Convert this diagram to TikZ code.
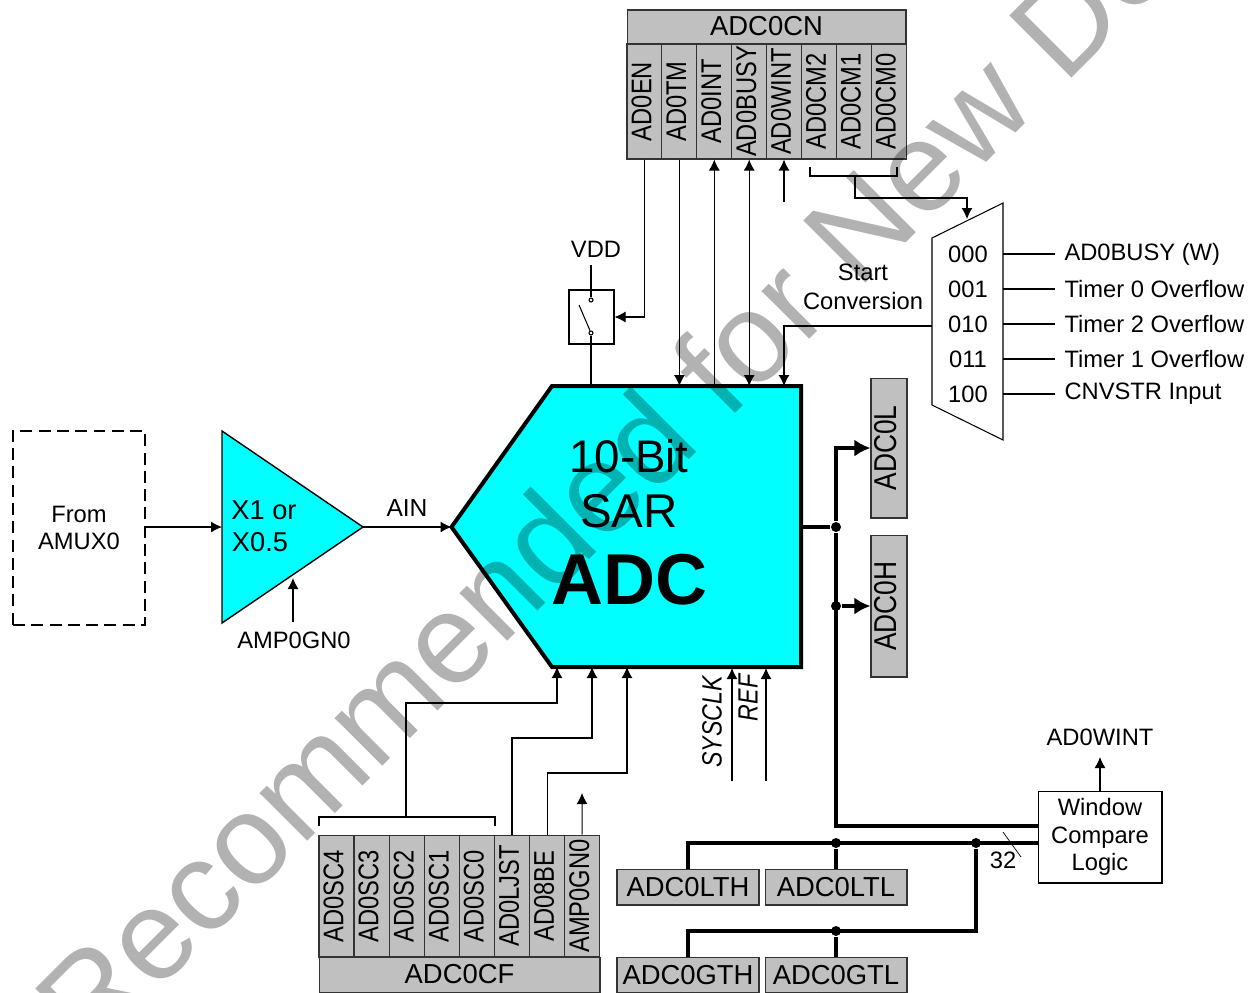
\documentclass[tikz,border=0pt]{standalone}
\usepackage{fontspec}
\setmainfont{Liberation Sans}
\usetikzlibrary{arrows.meta}
\definecolor{regfill}{RGB}{192,192,192}
\definecolor{adcfill}{RGB}{0,255,255}
\newcommand{\fsize}[1]{\fontsize{#1}{#1}\selectfont}
\newcommand{\vbit}[1]{\kern-.12cm\rotatebox{90}{\scalebox{1}[1.2]{#1}}}
\tikzset{
  sig/.style={-{Latex[length=2.2mm,width=2.2mm]}},
  bisig/.style={{Latex[length=2.2mm,width=2.2mm]}-{Latex[length=2.2mm,width=2.2mm]}},
  bus/.style={line width=.065cm},
  busarr/.style={line width=.065cm,-{Latex[length=3.2mm,width=3.4mm]}},
  dot/.style={circle,fill=black,inner sep=0pt,minimum size=.2cm},
  swpin/.style={draw,circle,inner sep=0pt,minimum size=.08cm},
  reg/.style={draw=black!80,fill=regfill,inner sep=0pt,font=\fsize{15.6}},
  bitcell/.style={reg,minimum width=.7cm,minimum height=2.3cm,font=\fsize{13.5}},
  lbl/.style={inner sep=0pt,font=\fsize{13.5},align=center},
}
\begin{document}
\begin{tikzpicture}[x=0.02cm,y=-0.02cm,line width=.6pt]
  \useasboundingbox (0,0) rectangle (1253,992);
  % converter block
  \node[minimum width=6.98cm,minimum height=5.62cm,inner sep=0pt] (adc) at (626.5,527) {};
  \fill[adcfill] (552,386) -- (801,386) -- (801,667) -- (552,667) -- (adc.west) -- cycle;
  \draw[line width=.08cm] (552,386) -- (801,386) -- (801,667) -- (552,667) -- (adc.west) -- cycle;
  \node[lbl,font=\fsize{26}] (tenbit) at (629,456) {10-Bit};
  \node[lbl,font=\fsize{27}] (sar) at (629,511) {SAR};
  \node[lbl,font=\fsize{41}\bfseries] (adctext) at (630,580) {ADC};
  % input side
  \node[draw,line width=1.5pt,dash pattern=on 6.8pt off 3.6pt,minimum width=2.64cm,minimum height=3.88cm,lbl] (amux) at (79,528) {From\\[.08cm]AMUX0};
  \coordinate (ampin) at (222,527);
  \coordinate (ampout) at (363,527);
  \coordinate (ampgain) at (293,578);
  \draw[fill=adcfill,line width=.8pt] (222,431) -- (ampout) -- (222,623) -- cycle;
  \node[lbl,font=\fsize{15.5}] (xone) at (264,510) {X1 or};
  \node[lbl,font=\fsize{15.5}] (xhalf) at (260,542) {X0.5};
  \draw[sig] (amux.east |- ampin) -- (ampin);
  \draw[sig] (ampout) -- (adc.west);
  \node[lbl,font=\fsize{14}] (ain) at (407,508) {AIN};
  \node[lbl] (gainlbl) at (294,640) {AMP0GN0};
  \draw[sig] (gainlbl.north -| ampgain) ++(0,-9) -- (ampgain);
  % control register
  \node[reg,minimum width=5.58cm,minimum height=.68cm] (adc0cn) at (766.5,27) {\raisebox{.05cm}{ADC0CN}};
  \foreach \n [count=\x from 0] in {AD0EN,AD0TM,AD0INT,AD0BUSY,AD0WINT,AD0CM2,AD0CM1,AD0CM0}{
    \node[bitcell] (\n) at ({644.5+34.9*\x},101.5) {\vbit{\n}};
  }
  % VDD switch
  \node[draw,minimum width=.9cm,minimum height=1.08cm,inner sep=0pt] (switch) at (591.5,317) {};
  \node[lbl] (vdd) at (596,249) {VDD};
  \node[swpin] (swtop) at (591,300) {};
  \node[swpin] (swbot) at (591,333) {};
  \coordinate (vddend) at (591,265);
  \draw (vddend) -- (swtop);
  \draw (swbot) -- (579,305);
  \draw (swbot) -- (swbot |- adc.north);
  \draw[sig] (AD0EN.south) |- (switch.east);
  \draw[sig] (AD0TM.south) -- (AD0TM.south |- adc.north);
  \draw[sig] (AD0INT.south |- adc.north) -- (AD0INT.south);
  \draw[bisig] (AD0BUSY.south) -- (AD0BUSY.south |- adc.north);
  \coordinate (wintfree) at (784,202);
  \draw[sig] (wintfree) -- (wintfree |- AD0WINT.south);
  % start of conversion mux
  \coordinate (muxtop) at (967,219);
  \coordinate (muxright) at (1003,300);
  \coordinate (muxleft) at (932,326);
  \draw (932,238) -- (1003,203) -- (1003,440) -- (932,405) -- cycle;
  \draw (810,167) |- (897,176) -- (897,167);
  \draw[sig] (855,176) |- (muxtop |- 855,198) -- (muxtop);
  \foreach \c/\t/\y in {000/AD0BUSY (W)/255,001/Timer 0 Overflow/290,010/Timer 2 Overflow/325,011/Timer 1 Overflow/360,100/CNVSTR Input/395}{
    \node[lbl] (sel\c) at (968,\y-1) {\c};
    \node[lbl,anchor=west,inner sep=.18cm] (src\c) at (1055,\y-1) {\t};
    \draw (muxright |- src\c.west) -- (src\c.west);
  }
  \node[lbl,align=center] (startconv) at (863,287) {Start\\[.1cm]Conversion};
  \draw[sig] (muxleft) -| (wintfree |- adc.north);
  % output registers
  \node[reg,minimum width=.72cm,minimum height=2.8cm,font=\fsize{15}] (adc0l) at (889,448) {\vbit{ADC0L}};
  \node[reg,minimum width=.72cm,minimum height=2.84cm,font=\fsize{15}] (adc0h) at (889,606) {\vbit{ADC0H}};
  \node[dot] (outdot) at (836,527) {};
  \node[dot] (hdot) at (836,606) {};
  \draw[bus] (adc.east) -- (outdot);
  \draw[busarr] (outdot) |- (adc0l.west);
  \draw[busarr] (hdot) -- (adc0h.west);
  % window compare
  \node[draw,minimum width=2.48cm,minimum height=1.84cm,lbl] (window) at (1100,837) {Window\\[.08cm]Compare\\[.08cm]Logic};
  \node[lbl] (wintlbl) at (1100,737) {AD0WINT};
  \coordinate (wintend) at (1100,757);
  \draw[sig] (window.north -| wintend) -- (wintend);
  \draw[bus] (outdot) |- (window.west |- 836,826);
  \node[reg,minimum width=2.84cm,minimum height=.72cm] (ltH) at (688,887) {ADC0LTH};
  \node[reg,minimum width=2.84cm,minimum height=.72cm] (ltL) at (836,887) {ADC0LTL};
  \node[reg,minimum width=2.84cm,minimum height=.72cm] (gtH) at (688,975) {ADC0GTH};
  \node[reg,minimum width=2.84cm,minimum height=.72cm] (gtL) at (836,975) {ADC0GTL};
  \node[dot] (ltdot) at (836,843) {};
  \node[dot] (busdot) at (976,843) {};
  \node[dot] (gtdot) at (836,931) {};
  \draw[bus] (ltH.north) |- (window.west |- busdot);
  \draw[bus] (ltdot) -- (ltL.north);
  \draw[bus] (busdot) |- (gtH.north |- gtdot) -- (gtH.north);
  \draw[bus] (gtdot) -- (gtL.north);
  \node[lbl] (buswidth) at (1003,860) {32};
  \draw[line width=.4pt] (1003,832) -- (1021,857);
  % clock and reference
  \node[lbl,font=\fsize{13.2}\itshape] (sysclk) at (715,722) {\vbit{SYSCLK}};
  \node[lbl,font=\fsize{13.2}\itshape] (reflbl) at (751,698) {\vbit{REF}};
  \coordinate (clkfree) at (732,781);
  \coordinate (reffree) at (766,781);
  \draw[sig] (clkfree) -- (clkfree |- adc.south);
  \draw[sig] (reffree) -- (reffree |- adc.south);
  % configuration register
  \node[reg,minimum width=5.62cm,minimum height=.7cm] (adc0cf) at (459.5,975) {\raisebox{.05cm}{ADC0CF}};
  \foreach \n [count=\x from 0] in {AD0SC4,AD0SC3,AD0SC2,AD0SC1,AD0SC0,AD0LJST,AD08BE,AMP0GN0}{
    \node[bitcell,minimum height=2.44cm] (\n) at ({336.5+35.1*\x},896) {\vbit{\n}};
  }
  \draw (319,826) |- (495,817) -- (495,826);
  \coordinate (sckin) at (557,667);
  \coordinate (ljstin) at (592,667);
  \coordinate (bein) at (627,667);
  \coordinate (ampfree) at (582,793);
  \draw[sig] (406,817) |- (sckin |- 406,703) -- (sckin);
  \draw[sig] (AD0LJST.north) |- (ljstin |- 512,738) -- (ljstin);
  \draw[sig] (AD08BE.north) |- (bein |- 547,773) -- (bein);
  \draw[sig] (AMP0GN0.north) -- (ampfree);
  % watermark
  \node[anchor=base west,rotate=45,inner sep=0pt,text=black,text opacity=.3,font=\fsize{72.7}] (mark) at (90,1059) {Recommended for New De};
\end{tikzpicture}
\end{document}
